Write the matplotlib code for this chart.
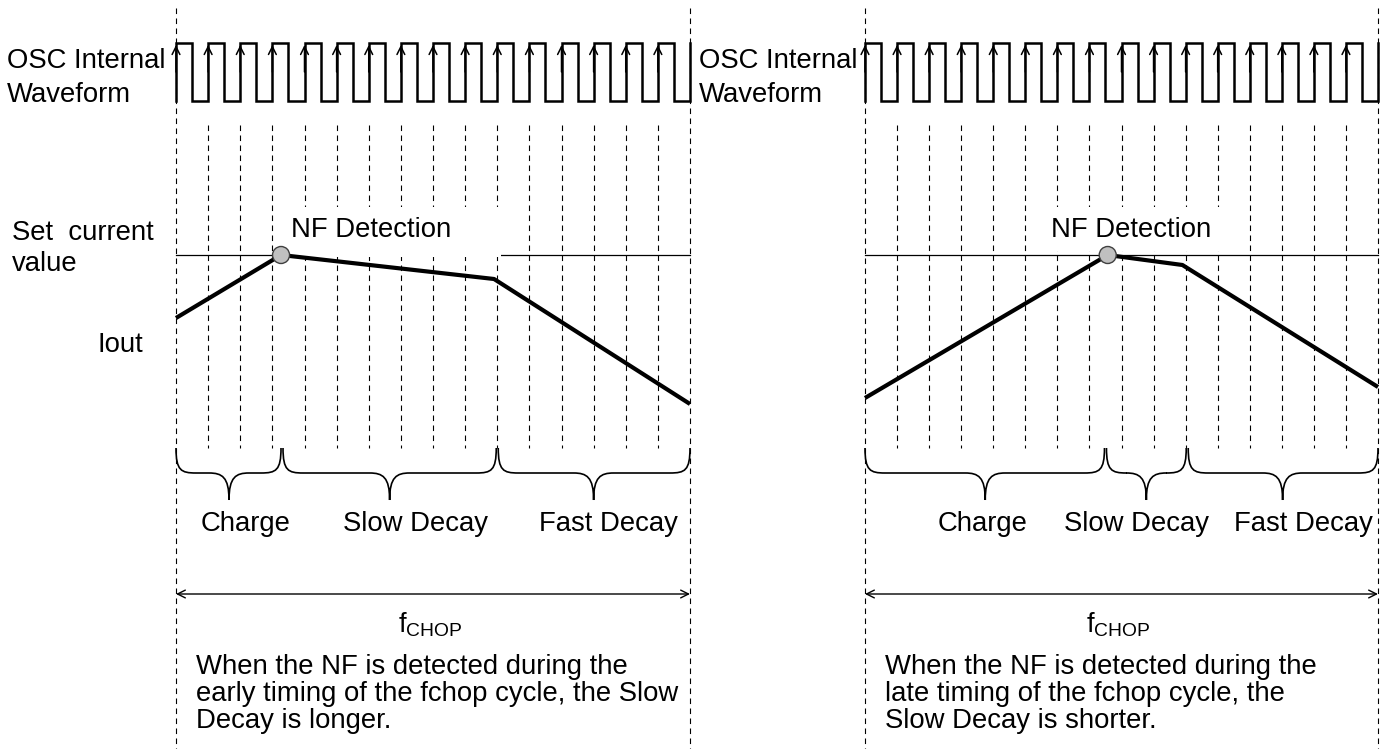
import matplotlib.pyplot as plt
from matplotlib.patches import Circle, Rectangle, PathPatch
from matplotlib.path import Path

plt.rcParams['font.family'] = ['Liberation Sans', 'DejaVu Sans']

# clock: 16 OSC cycles per fchop period (rising edges in cycles)
rising_edges = [0, 1, 2, 3, 4, 5, 6, 7, 8, 9, 10, 11, 12, 13, 14, 15, 16]

# Iout (set current value = 100) versus time in OSC cycles
left_t = [0, 3.27, 9.9, 16]
left_i = [68.5, 100, 88, 25.5]
right_t = [0, 7.57, 9.9, 16]
right_i = [28.5, 100, 95, 34]
nf_t = [3.27, 7.57]
set_current = 100

# phases (boundaries in cycles)
phase_names = ['Charge', 'Slow Decay', 'Fast Decay']
left_bounds = [0, 3.3, 10.0, 16]
right_bounds = [0, 7.5, 10.05, 16]
left_label_t = [2.18, 7.45, 13.46]
right_label_t = [3.67, 8.48, 13.66]

notes = [
    ['When the NF is detected during the',
     'early timing of the fchop cycle, the Slow',
     'Decay is longer.'],
    ['When the NF is detected during the',
     'late timing of the fchop cycle, the',
     'Slow Decay is shorter.'],
]

W, H = 1389, 749
fig = plt.figure(figsize=(W / 100, H / 100), dpi=100)
ax = fig.add_axes([0, 0, 1, 1])
ax.set_xlim(0, W)
ax.set_ylim(H, 0)
ax.axis('off')

fs = 19.8
panel_x0 = [176, 865]
panel_w = [514, 513]
wave_hi, wave_lo = 43, 101
dash = (0, (5, 4))


def tx(p, t):
    return panel_x0[p] + t * panel_w[p] / 16


def iy(i):
    return 255 - (i - set_current) * 2


def brace(xa, xb, xm, y0=448, y1=473, y2=500, r=20):
    verts = [(xa, y0),
             (xa, y0 + 0.9 * (y1 - y0)), (xa + 0.25 * r, y1), (xa + r, y1),
             (xm - r, y1),
             (xm - 0.35 * r, y1), (xm, y1 + 4), (xm, y2),
             (xm, y1 + 4), (xm + 0.35 * r, y1), (xm + r, y1),
             (xb - r, y1),
             (xb - 0.25 * r, y1), (xb, y0 + 0.9 * (y1 - y0)), (xb, y0)]
    codes = [Path.MOVETO, Path.CURVE4, Path.CURVE4, Path.CURVE4, Path.LINETO,
             Path.CURVE4, Path.CURVE4, Path.CURVE4,
             Path.CURVE4, Path.CURVE4, Path.CURVE4, Path.LINETO,
             Path.CURVE4, Path.CURVE4, Path.CURVE4]
    ax.add_patch(PathPatch(Path(verts, codes), fill=False, lw=1.2,
                           ec='black', zorder=3))


panels = [(left_t, left_i, left_bounds, left_label_t),
          (right_t, right_i, right_bounds, right_label_t)]

for p, (ts, cur, bounds, lab_t) in enumerate(panels):
    # panel boundaries
    for t in (0, 16):
        ax.plot([tx(p, t)] * 2, [8, H], color='black', lw=0.8, ls=dash, zorder=1)

    # OSC square wave
    xs, ys = [tx(p, 0)], [wave_lo]
    for k in rising_edges[:-1]:
        xs += [tx(p, k), tx(p, k + 0.5), tx(p, k + 0.5), tx(p, k + 1)]
        ys += [wave_hi, wave_hi, wave_lo, wave_lo]
    xs.append(tx(p, 16))
    ys.append(wave_hi)
    ax.plot(xs, ys, color='black', lw=1.8, solid_joinstyle='miter', zorder=3)
    for k in rising_edges[:-1]:
        ax.annotate('', xy=(tx(p, k), 45), xytext=(tx(p, k), 72),
                    arrowprops=dict(arrowstyle='->', lw=1.1, color='black',
                                    mutation_scale=14, shrinkA=0, shrinkB=0),
                    zorder=4)

    # timing lines at each clock edge
    for k in rising_edges[1:-1]:
        ax.plot([tx(p, k)] * 2, [125, 448], color='black', lw=0.8, ls=dash, zorder=1)

    # set current value line
    ax.plot([tx(p, 0), tx(p, 16)], [iy(set_current)] * 2, color='black', lw=0.9, zorder=1.5)

    # Iout
    ax.plot([tx(p, t) for t in ts], [iy(i) for i in cur], color='black', lw=3,
            solid_capstyle='butt', zorder=4)
    ax.add_patch(Circle((tx(p, nf_t[p]), iy(set_current)), 8.5, fc='#c0c0c0',
                        ec='#404040', lw=1, zorder=5))

    # phase braces and labels
    for j, name in enumerate(phase_names):
        xa, xb = tx(p, bounds[j]), tx(p, bounds[j + 1])
        brace(xa + (1 if j else 0), xb - (1 if j < 2 else 0), (xa + xb) / 2)
        ax.text(tx(p, lab_t[j]), 531, name, ha='center', va='baseline', fontsize=fs)

    # fchop arrow
    ax.annotate('', xy=(tx(p, 0), 594), xytext=(tx(p, 16), 594),
                arrowprops=dict(arrowstyle='<->', lw=1, color='black',
                                mutation_scale=14, shrinkA=0, shrinkB=0))
    ax.text(tx(p, 7.9), 632, r'f$_{\mathregular{CHOP}}$', ha='center',
            va='baseline', fontsize=fs)

    # notes
    for n, line in enumerate(notes[p]):
        ax.text(tx(p, 0) + 20, 674 + n * 27, line, ha='left', va='baseline', fontsize=fs)

# NF Detection labels with white background
ax.add_patch(Rectangle((286, 207), 215, 50, fc='white', ec='none', zorder=2))
ax.add_patch(Rectangle((1038, 207), 200, 44, fc='white', ec='none', zorder=2))
ax.text(371, 237, 'NF Detection', ha='center', va='baseline', fontsize=fs, zorder=3)
ax.text(1131, 237, 'NF Detection', ha='center', va='baseline', fontsize=fs, zorder=3)

# left-hand labels
for x0 in (7, 699):
    ax.text(x0, 68, 'OSC Internal', va='baseline', fontsize=fs)
    ax.text(x0, 102, 'Waveform', va='baseline', fontsize=fs)
ax.text(12, 240, 'Set  current', va='baseline', fontsize=fs)
ax.text(12, 271, 'value', va='baseline', fontsize=fs)
ax.text(97, 352, 'Iout', va='baseline', fontsize=fs)

fig.savefig('out.png', dpi=100, facecolor='white')
